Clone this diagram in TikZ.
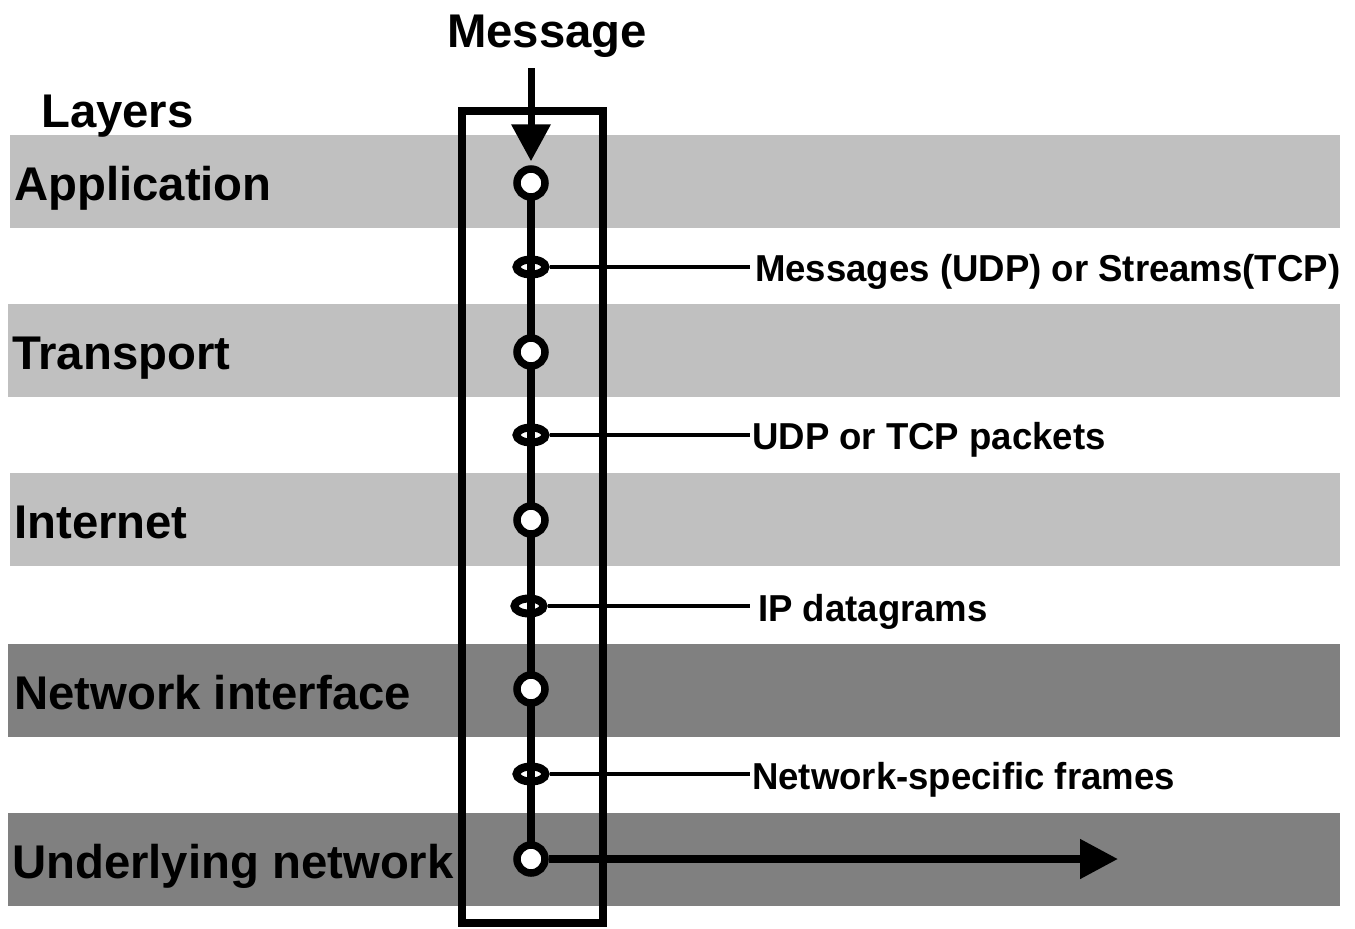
\documentclass[tikz,border=0pt]{standalone}
\usepackage{fontspec}
\setmainfont{Liberation Sans}
\newfontfamily\narrowfont{Liberation Sans}[FakeStretch=0.975]
\usetikzlibrary{arrows.meta,shapes.geometric,calc}
\definecolor{lightband}{HTML}{C0C0C0}
\definecolor{darkband}{HTML}{808080}
\tikzset{
  bigtext/.style={inner sep=0pt, anchor=base west, font=\fontsize{47.3}{50}\selectfont\bfseries},
  smalltext/.style={inner sep=0pt, anchor=base west, font=\narrowfont\fontsize{37.5}{40}\selectfont\bfseries},
  layerpt/.style={circle, draw=black, fill=white, line width=7.5pt, minimum size=28pt, inner sep=0pt},
  pdupt/.style={ellipse, draw=black, line width=8pt, minimum width=29pt, minimum height=15pt, inner sep=0pt},
  pduline/.style={line width=4.5pt},
}
\begin{document}
\begin{tikzpicture}[x=1pt,y=-1pt]
\useasboundingbox (0,0) rectangle (1355,929);
% bands
\fill[lightband] (10,135) rectangle (1340,228);
\fill[lightband] (8,304) rectangle (1340,397);
\fill[lightband] (10,473) rectangle (1340,566);
\fill[darkband] (8,644) rectangle (1340,737);
\fill[darkband] (8,813) rectangle (1340,906);
% box
\draw[line width=8pt] (462,111) rectangle (603,923);
% texts
\node[bigtext] (msg) at (447,47) {Message};
\node[bigtext] (layers) at (41,127) {Layers};
\node[bigtext] (app) at (14,200) {Application};
\node[bigtext] (tra) at (12,369) {Transport};
\node[bigtext] (int) at (14,538) {Internet};
\node[bigtext] (nif) at (14,709) {Network interface};
\node[bigtext] (und) at (12,878) {Underlying network};
\node[smalltext] (l1) at (755,281) {Messages (UDP) or Streams(TCP)};
\node[smalltext] (l2) at (752,449) {UDP or TCP packets};
\node[smalltext] (l3) at (758,621) {IP datagrams};
\node[smalltext] (l4) at (752,789) {Network-specific frames};
% points
\coordinate (p1) at (531,183);
\coordinate (p5) at (531,859);
\coordinate (msgstart) at (531,68);
\coordinate (netend) at (1118,859);
\draw[line width=8.5pt] (p1) -- (p5);
\node[layerpt] (c1) at (p1) {};
\node[layerpt] (c2) at (531,352) {};
\node[layerpt] (c3) at (531,520) {};
\node[layerpt] (c4) at (531,689) {};
\node[layerpt] (c5) at (p5) {};
\node[pdupt] (e1) at (531,267) {};
\node[pdupt] (e2) at (531,435) {};
\node[pdupt] (e3) at (529,606) {};
\node[pdupt] (e4) at (531,774) {};
% connectors to labels
\draw[pduline] (e1) -- ($(e1 -| l1.west)+(-5,0)$);
\draw[pduline] (e2) -- ($(e2 -| l2.west)+(-2,0)$);
\draw[pduline] (e3) -- ($(e3 -| l3.west)+(-8,0)$);
\draw[pduline] (e4) -- ($(e4 -| l4.west)+(-2,0)$);
% arrows
\draw[line width=7pt, -{Triangle[length=37pt,width=38pt]}, shorten >=4pt] (msgstart) -- (c1);
\draw[line width=8pt, -{Triangle[length=38pt,width=38pt]}] (c5) -- (netend);
\end{tikzpicture}
\end{document}
